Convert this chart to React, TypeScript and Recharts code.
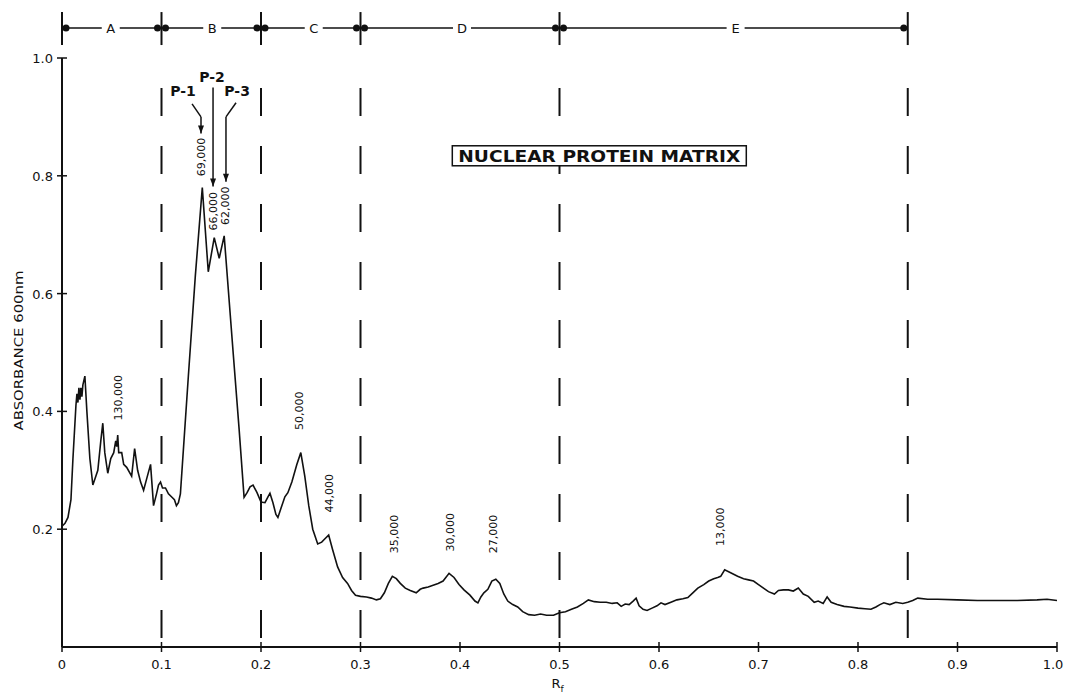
import { LineChart, Line, XAxis, YAxis, ReferenceLine, ReferenceDot } from 'recharts';

// densitometer trace
const rf = [
  0.0, 0.003, 0.006, 0.009, 0.011, 0.014, 0.015, 0.016, 0.017, 0.018, 0.019, 0.02, 0.021, 0.023, 0.025,
  0.028, 0.031, 0.034, 0.036, 0.039, 0.041, 0.043, 0.046, 0.049, 0.052, 0.054, 0.055, 0.056, 0.057, 0.06,
  0.062, 0.065, 0.07, 0.073, 0.076, 0.079, 0.082, 0.085, 0.089, 0.092, 0.095, 0.097, 0.099, 0.101, 0.104,
  0.107, 0.11, 0.113, 0.115, 0.117, 0.119, 0.127, 0.134, 0.141, 0.147, 0.153, 0.158, 0.163, 0.172, 0.178,
  0.183, 0.186, 0.189, 0.192, 0.196, 0.2, 0.204, 0.207, 0.209, 0.212, 0.215, 0.217, 0.22, 0.224, 0.227,
  0.231, 0.236, 0.24, 0.244, 0.248, 0.252, 0.257, 0.261, 0.265, 0.268, 0.272, 0.277, 0.282, 0.287, 0.291,
  0.295, 0.3, 0.306, 0.311, 0.316, 0.32, 0.324, 0.328, 0.332, 0.336, 0.34, 0.345, 0.35, 0.356, 0.36,
  0.363, 0.368, 0.373, 0.378, 0.383, 0.389, 0.394, 0.399, 0.404, 0.41, 0.415, 0.418, 0.421, 0.424, 0.428,
  0.432, 0.436, 0.44, 0.444, 0.448, 0.453, 0.458, 0.463, 0.469, 0.475, 0.481, 0.487, 0.494, 0.5, 0.506,
  0.512, 0.518, 0.524, 0.529, 0.535, 0.541, 0.547, 0.553, 0.558, 0.562, 0.566, 0.57, 0.574, 0.577, 0.58,
  0.584, 0.588, 0.593, 0.598, 0.602, 0.606, 0.612, 0.618, 0.624, 0.629, 0.634, 0.639, 0.645, 0.65, 0.655,
  0.659, 0.662, 0.666, 0.672, 0.679, 0.685, 0.69, 0.695, 0.7, 0.705, 0.71, 0.716, 0.72, 0.725, 0.73,
  0.735, 0.74, 0.745, 0.75, 0.756, 0.76, 0.765, 0.769, 0.773, 0.779, 0.786, 0.792, 0.8, 0.807, 0.813,
  0.818, 0.822, 0.826, 0.832, 0.838, 0.845, 0.85, 0.855, 0.86, 0.87, 0.88, 0.9, 0.92, 0.94, 0.96,
  0.98, 0.99, 1.0,
];
const absorbance = [
  0.205, 0.21, 0.22, 0.25, 0.32, 0.41, 0.43, 0.415, 0.44, 0.42, 0.44, 0.425, 0.445, 0.46, 0.4,
  0.32, 0.275, 0.29, 0.3, 0.35, 0.38, 0.33, 0.295, 0.32, 0.33, 0.35, 0.34, 0.36, 0.33, 0.33,
  0.31, 0.305, 0.29, 0.337, 0.3, 0.28, 0.266, 0.285, 0.31, 0.24, 0.26, 0.275, 0.28, 0.27, 0.27,
  0.26, 0.255, 0.25, 0.24, 0.245, 0.26, 0.46, 0.63, 0.78, 0.637, 0.695, 0.66, 0.698, 0.5, 0.37,
  0.254, 0.262, 0.272, 0.275, 0.262, 0.246, 0.245, 0.255, 0.261, 0.245, 0.225, 0.22, 0.235, 0.255, 0.262,
  0.28, 0.31, 0.33, 0.29, 0.24, 0.2, 0.175, 0.178, 0.185, 0.19, 0.165, 0.136, 0.118, 0.108, 0.096,
  0.088, 0.086, 0.085, 0.083, 0.08, 0.082, 0.092, 0.108, 0.12, 0.116, 0.108, 0.1, 0.096, 0.092, 0.098,
  0.1, 0.102, 0.105, 0.108, 0.112, 0.125, 0.118, 0.106, 0.097, 0.088, 0.078, 0.075, 0.085, 0.092, 0.098,
  0.112, 0.115, 0.108, 0.09, 0.078, 0.072, 0.068, 0.06, 0.055, 0.054, 0.056, 0.054, 0.054, 0.058, 0.06,
  0.064, 0.068, 0.074, 0.08, 0.077, 0.076, 0.076, 0.074, 0.075, 0.069, 0.073, 0.072, 0.078, 0.083, 0.07,
  0.064, 0.062, 0.066, 0.07, 0.075, 0.072, 0.076, 0.08, 0.082, 0.084, 0.092, 0.1, 0.106, 0.112, 0.116,
  0.118, 0.12, 0.131, 0.126, 0.12, 0.116, 0.114, 0.112, 0.106, 0.1, 0.094, 0.09, 0.096, 0.097, 0.097,
  0.095, 0.1, 0.09, 0.086, 0.076, 0.078, 0.074, 0.085, 0.076, 0.072, 0.069, 0.068, 0.066, 0.065, 0.064,
  0.068, 0.072, 0.075, 0.072, 0.076, 0.074, 0.076, 0.079, 0.083, 0.081, 0.081, 0.08, 0.079, 0.079, 0.079,
  0.08, 0.081, 0.079,
];

const xTicks = [0, 0.1, 0.2, 0.3, 0.4, 0.5, 0.6, 0.7, 0.8, 0.9, 1.0];
const xTickLabels = ['0', '0.1', '0.2', '0.3', '0.4', '0.5', '0.6', '0.7', '0.8', '0.9', '1.0'];
const yTicks = [0.2, 0.4, 0.6, 0.8, 1.0];
const yTickLabels = ['0.2', '0.4', '0.6', '0.8', '1.0'];

// zones along the top
const zoneEdges = [0, 0.1, 0.2, 0.3, 0.5, 0.85];
const zoneNames = ['A', 'B', 'C', 'D', 'E'];
const zoneLabelRf = [0.049, 0.151, 0.253, 0.402, 0.677];
const zoneBarAbs = 1.051;
const zoneTickTop = 1.078;
const zoneTickBottom = 1.022;

const dashedAt = [0.1, 0.2, 0.3, 0.5, 0.85];
const dashedTop = 0.949;

// molecular weight labels over the bands
const bandNames = ['130,000', '69,000', '66,000', '62,000', '50,000', '44,000', '35,000', '30,000', '27,000', '13,000'];
const bandRf = [0.0563, 0.14, 0.152, 0.164, 0.239, 0.269, 0.334, 0.39, 0.434, 0.662];
const bandAbs = [0.423, 0.832, 0.74, 0.749, 0.401, 0.261, 0.192, 0.195, 0.192, 0.204];

const peakNames = ['P-1', 'P-2', 'P-3'];
const peakLabelRf = [0.1216, 0.1508, 0.176];
const peakLabelAbs = [0.944, 0.968, 0.944];
const peakArrows = [
  [[0.1307, 0.922], [0.1397, 0.9], [0.1397, 0.872]],
  [[0.1518, 0.95], [0.1518, 0.782]],
  [[0.1749, 0.924], [0.1648, 0.9], [0.1648, 0.79]],
];

const data = rf.map((r, i) => ({ rf: r, abs: absorbance[i] }));

const INK = '#111';
const FONT = '"DejaVu Sans", "Liberation Sans", sans-serif';

const XTick = ({ x, y, payload }: any) => {
  const i = xTicks.indexOf(payload.value);
  // last label sits at the page edge, nudge it in a little
  const dx = i === xTicks.length - 1 ? -4 : 0;
  return (
    <g>
      <line x1={x} x2={x} y1={y - 5} y2={y + 5} stroke={INK} strokeWidth={1.5} />
      <text x={x + dx} y={y + 22} textAnchor="middle" fontSize={13} fill={INK} fontFamily={FONT}>
        {xTickLabels[i]}
      </text>
    </g>
  );
};

const YTick = ({ x, y, payload }: any) => (
  <g>
    <line x1={x - 5} x2={x + 5} y1={y} y2={y} stroke={INK} strokeWidth={1.5} />
    <text x={x - 9} y={y + 5} textAnchor="end" fontSize={13} fill={INK} fontFamily={FONT}>
      {yTickLabels[yTicks.indexOf(payload.value)]}
    </text>
  </g>
);

const rotatedText = (text: string) => (p: any) => (
  <text
    x={p.cx}
    y={p.cy}
    transform={`rotate(-90 ${p.cx} ${p.cy})`}
    textAnchor="middle"
    dominantBaseline="central"
    fontSize={11}
    fill={INK}
    fontFamily={FONT}
  >
    {text}
  </text>
);

const peakText = (text: string) => (p: any) => (
  <text x={p.cx} y={p.cy} textAnchor="middle" dominantBaseline="central" fontSize={14} fontWeight="bold" fill={INK} fontFamily={FONT}>
    {text}
  </text>
);

const arrowHead = (p: any) => (
  <path d={`M${p.cx - 3},${p.cy - 8} L${p.cx + 3},${p.cy - 8} L${p.cx},${p.cy} Z`} fill={INK} />
);

const zoneLetter = (text: string) => (p: any) => (
  <g>
    <rect x={p.cx - 9} y={p.cy - 8} width={18} height={16} fill="#fff" />
    <text x={p.cx} y={p.cy + 5} textAnchor="middle" fontSize={13} fill={INK} fontFamily={FONT}>
      {text}
    </text>
  </g>
);

const edgeDots = (i: number) => (p: any) => (
  <g>
    {i > 0 && <circle cx={p.cx - 4} cy={p.cy} r={3.5} fill={INK} />}
    {i < zoneEdges.length - 1 && <circle cx={p.cx + 4} cy={p.cy} r={3.5} fill={INK} />}
  </g>
);

const titleBox = (p: any) => (
  <g>
    <rect x={p.cx - 147} y={p.cy - 10} width={294} height={20} fill="#fff" stroke={INK} strokeWidth={1.5} />
    <text
      x={p.cx}
      y={p.cy + 6}
      textAnchor="middle"
      fontSize={15}
      fontWeight="bold"
      fill={INK}
      fontFamily={FONT}
      textLength={282}
      lengthAdjust="spacingAndGlyphs"
    >
      NUCLEAR PROTEIN MATRIX
    </text>
  </g>
);

export default function App() {
  return (
    <div style={{ position: 'absolute', left: 0, top: 0, width: 1065, height: 696, background: '#fff' }}>
      <LineChart width={1065} height={696} data={data} margin={{ top: 58, right: 8, left: 12, bottom: 9 }}>
        <XAxis
          dataKey="rf"
          type="number"
          domain={[0, 1]}
          ticks={xTicks}
          allowDataOverflow
          height={40}
          tickSize={0}
          tickMargin={0}
          tickLine={false}
          axisLine={{ stroke: INK, strokeWidth: 2 }}
          tick={(p: any) => <XTick {...p} />}
          label={(p: any) => {
            const vb = p.viewBox;
            return (
              <text x={vb.x + vb.width / 2 - 2} y={vb.y + 41} textAnchor="middle" fontSize={13} fill={INK} fontFamily={FONT}>
                <tspan>R</tspan>
                <tspan dy={4} fontSize={9}>f</tspan>
              </text>
            );
          }}
        />
        <YAxis
          type="number"
          domain={[0, 1]}
          ticks={yTicks}
          allowDataOverflow
          width={50}
          tickSize={0}
          tickMargin={0}
          tickLine={false}
          axisLine={{ stroke: INK, strokeWidth: 2 }}
          tick={(p: any) => <YTick {...p} />}
          label={(p: any) => {
            const vb = p.viewBox;
            const cx = vb.x + 6;
            const cy = vb.y + vb.height / 2 - 2;
            return (
              <text
                x={cx}
                y={cy}
                transform={`rotate(-90 ${cx} ${cy})`}
                textAnchor="middle"
                dominantBaseline="central"
                fontSize={13}
                fill={INK}
                fontFamily={FONT}
                textLength={160}
                lengthAdjust="spacingAndGlyphs"
              >
                ABSORBANCE  600nm
              </text>
            );
          }}
        />

        {dashedAt.map((x) => (
          <ReferenceLine
            key={'d' + x}
            segment={[{ x, y: dashedTop }, { x, y: 0 }]}
            stroke={INK}
            strokeWidth={2}
            strokeDasharray="28 30"
            ifOverflow="visible"
          />
        ))}

        {/* zone bar */}
        <ReferenceLine
          segment={[{ x: zoneEdges[0], y: zoneBarAbs }, { x: zoneEdges[zoneEdges.length - 1], y: zoneBarAbs }]}
          stroke={INK}
          strokeWidth={1.5}
          ifOverflow="visible"
        />
        {zoneEdges.map((x) => (
          <ReferenceLine
            key={'z' + x}
            segment={[{ x, y: zoneTickTop }, { x, y: zoneTickBottom }]}
            stroke={INK}
            strokeWidth={2}
            ifOverflow="visible"
          />
        ))}

        {peakArrows.map((pts, i) =>
          pts.slice(1).map((pt, j) => (
            <ReferenceLine
              key={`a${i}-${j}`}
              segment={[{ x: pts[j][0], y: pts[j][1] }, { x: pt[0], y: pt[1] }]}
              stroke={INK}
              strokeWidth={1.5}
              ifOverflow="visible"
            />
          ))
        )}

        <Line
          type="linear"
          dataKey="abs"
          stroke={INK}
          strokeWidth={1.6}
          dot={false}
          activeDot={false}
          isAnimationActive={false}
        />

        {zoneEdges.map((x, i) => (
          <ReferenceDot key={'e' + x} x={x} y={zoneBarAbs} ifOverflow="visible" shape={edgeDots(i)} />
        ))}
        {zoneNames.map((n, i) => (
          <ReferenceDot key={'n' + n} x={zoneLabelRf[i]} y={zoneBarAbs} ifOverflow="visible" shape={zoneLetter(n)} />
        ))}
        {bandNames.map((n, i) => (
          <ReferenceDot key={'b' + n} x={bandRf[i]} y={bandAbs[i]} ifOverflow="visible" shape={rotatedText(n)} />
        ))}
        {peakNames.map((n, i) => (
          <ReferenceDot key={'p' + n} x={peakLabelRf[i]} y={peakLabelAbs[i]} ifOverflow="visible" shape={peakText(n)} />
        ))}
        {peakArrows.map((pts, i) => (
          <ReferenceDot
            key={'h' + i}
            x={pts[pts.length - 1][0]}
            y={pts[pts.length - 1][1]}
            ifOverflow="visible"
            shape={arrowHead}
          />
        ))}
        <ReferenceDot x={0.54} y={0.834} ifOverflow="visible" shape={titleBox} />
      </LineChart>
    </div>
  );
}
